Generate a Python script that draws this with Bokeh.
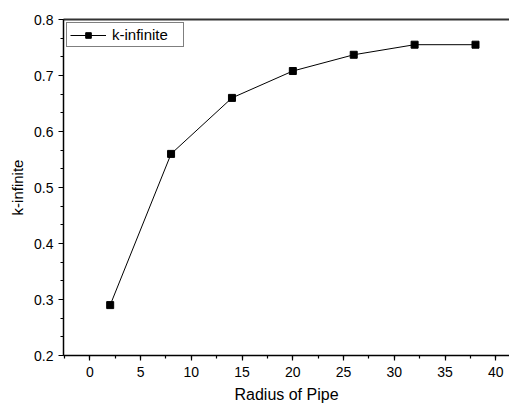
from bokeh.plotting import figure
from bokeh.models import LinearAxis, Range1d, SingleIntervalTicker, Legend, LegendItem
from bokeh.embed import file_html
from bokeh.resources import INLINE

radius = [2, 8, 14, 20, 26, 32, 38]
k_inf = [0.29, 0.56, 0.66, 0.708, 0.737, 0.755, 0.755]
x_ticks = [0, 5, 10, 15, 20, 25, 30, 35, 40]
y_ticks = [0.2, 0.3, 0.4, 0.5, 0.6, 0.7, 0.8]

FONT = "Liberation Sans"

p = figure(width=509, height=405, output_backend="svg", toolbar_location=None,
           x_range=Range1d(-2.6, 41.35), y_range=Range1d(0.2, 0.8),
           min_border_left=63, min_border_right=0, min_border_top=19, min_border_bottom=50,
           x_axis_label="Radius of Pipe", y_axis_label="k-infinite")
p.outline_line_color = None
p.grid.visible = False
p.background_fill_color = "white"
p.border_fill_color = "white"

for ax in (p.xaxis[0], p.yaxis[0]):
    ax.axis_line_width = 1.5
    ax.axis_line_color = "black"
    ax.major_tick_line_color = "black"
    ax.minor_tick_line_color = "black"
    ax.major_tick_line_width = 1.2
    ax.minor_tick_line_width = 1.2
    ax.major_tick_in = 0
    ax.major_tick_out = 5
    ax.minor_tick_in = 0
    ax.minor_tick_out = 3
    ax.major_label_text_font = FONT
    ax.major_label_text_font_size = "14px"
    ax.major_label_text_color = "black"
    ax.axis_label_text_font = FONT
    ax.axis_label_text_font_style = "normal"
    ax.axis_label_text_color = "black"

p.xaxis[0].ticker = SingleIntervalTicker(interval=5, num_minor_ticks=2)
p.yaxis[0].ticker = SingleIntervalTicker(interval=0.1, num_minor_ticks=3)
p.xaxis[0].axis_label_text_font_size = "16px"
p.yaxis[0].axis_label_text_font_size = "15px"
p.xaxis[0].major_label_standoff = 6
p.xaxis[0].axis_label_standoff = 6
p.yaxis[0].major_label_standoff = 5
p.yaxis[0].axis_label_standoff = 5

top = LinearAxis(ticker=SingleIntervalTicker(interval=5, num_minor_ticks=0))
top.axis_line_width = 2
top.axis_line_color = "#333333"
top.major_tick_line_color = None
top.minor_tick_line_color = None
top.major_label_text_font_size = "0px"
top.major_label_text_color = None
p.add_layout(top, "above")

r_line = p.line(radius, k_inf, line_color="black", line_width=1)
r_pts = p.scatter(radius, k_inf, marker="square", size=7, fill_color="black", line_color="black")

legend = Legend(items=[LegendItem(label="k-infinite", renderers=[r_line, r_pts])],
                location="top_left")
legend.label_text_font = FONT
legend.label_text_font_size = "15px"
legend.label_text_color = "black"
legend.border_line_color = "black"
legend.border_line_width = 1
legend.glyph_width = 36
legend.glyph_height = 14
legend.padding = 3
legend.spacing = 0
legend.margin = 3
legend.label_standoff = 6
legend.label_height = 14
legend.label_width = 68
legend.background_fill_alpha = 1
p.add_layout(legend, "center")

open("out.html", "w").write(file_html(p, INLINE))
